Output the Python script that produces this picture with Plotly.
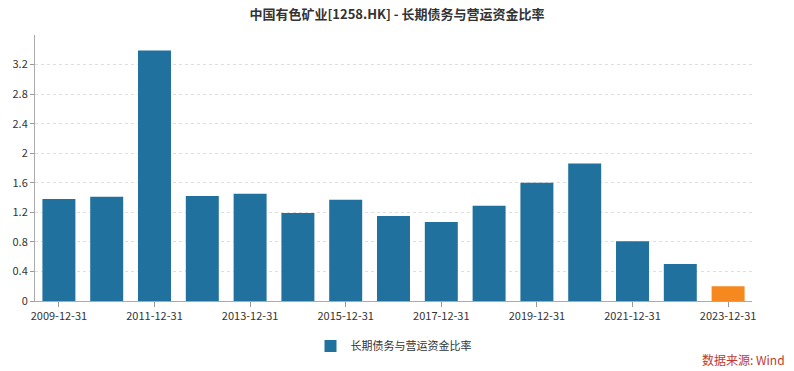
import plotly.graph_objects as go

dates = [f"{y}-12-31" for y in range(2009, 2024)]
values = [1.38, 1.41, 3.39, 1.42, 1.45, 1.19, 1.37, 1.15, 1.07, 1.29, 1.60, 1.86, 0.81, 0.50, 0.20]
colors = ["#21719f"] * 14 + ["#f5891f"]
y_ticks = [0, 0.4, 0.8, 1.2, 1.6, 2, 2.4, 2.8, 3.2]
y_labels = ["0", "0.4", "0.8", "1.2", "1.6", "2", "2.4", "2.8", "3.2"]
x_ticks = dates[::2]
series_name = "长期债务与营运资金比率"
title = "中国有色矿业[1258.HK] - 长期债务与营运资金比率"

font = "Noto Sans CJK SC, Noto Sans, sans-serif"

fig = go.Figure()
fig.add_trace(go.Bar(x=dates, y=values, name=series_name, marker=dict(color=colors, line=dict(width=0)),
                     showlegend=True))

fig.update_layout(
    width=794, height=371,
    margin=dict(l=35, r=42, t=35, b=70, autoexpand=False),
    paper_bgcolor="white", plot_bgcolor="white",
    font=dict(family=font, size=11, color="#333"),
    title=dict(text=f"<b>{title}</b>", x=0.5, xanchor="center", y=0.962, yanchor="middle",
               font=dict(size=13, color="#333", family=font)),
    bargap=0.31,
    showlegend=True,
    legend=dict(orientation="h", x=0.5, xanchor="center", y=-0.115, yanchor="top",
                font=dict(size=11, color="#333"), itemwidth=30),
    xaxis=dict(type="category", tickvals=x_ticks, ticktext=x_ticks, ticks="outside", ticklen=5,
               tickcolor="#999", showline=True, linecolor="#aaa", linewidth=1, showgrid=False,
               tickfont=dict(size=11, color="#333")),
    yaxis=dict(range=[0, 3.6], tickvals=y_ticks, ticktext=y_labels, ticks="outside", ticklen=4,
               tickcolor="#999", showline=True, linecolor="#aaa", linewidth=1,
               showgrid=True, gridcolor="#dedede", griddash="dot", gridwidth=1, zeroline=False,
               tickfont=dict(size=11, color="#333")),
    annotations=[dict(text="数据来源: Wind", x=1, xref="paper", xanchor="right", y=-0.18, yref="paper",
                      yanchor="top", showarrow=False, font=dict(size=12, color="#c0392b"), xshift=35)],
)

fig.write_html("out.html")
